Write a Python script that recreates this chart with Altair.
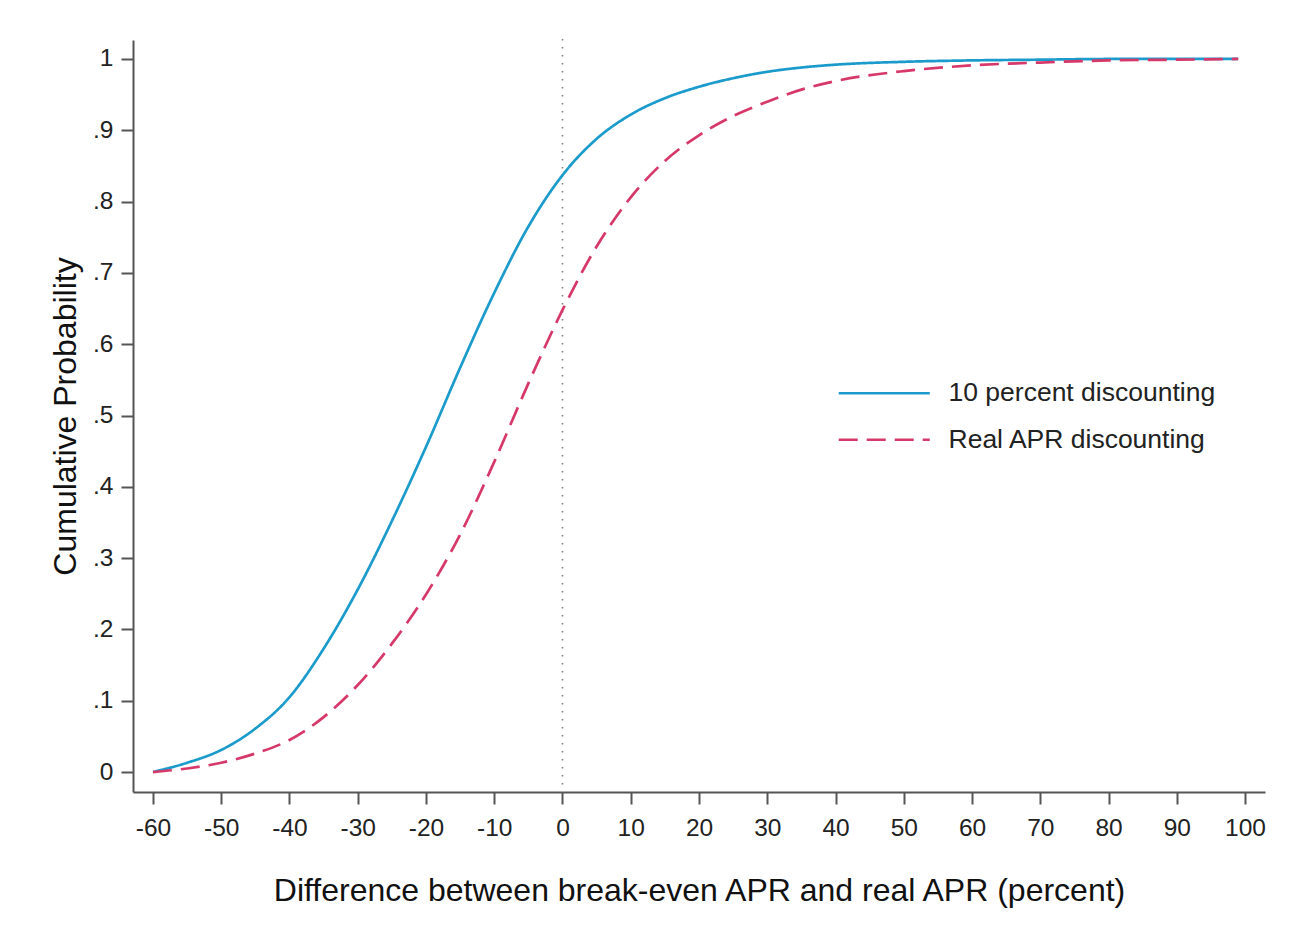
import altair as alt
import pandas as pd

# ---- data ----
x_vals = [-60, -55, -50, -45, -40, -35, -30, -25, -20, -15, -10, -5, 0, 5, 10,
          15, 20, 25, 30, 35, 40, 50, 60, 70, 80, 90, 99]
ten_pct = [0.0, 0.013, 0.031, 0.061, 0.105, 0.173, 0.256, 0.352, 0.456, 0.567,
           0.672, 0.765, 0.837, 0.888, 0.922, 0.945, 0.961, 0.973, 0.982,
           0.988, 0.992, 0.996, 0.998, 0.999, 1.0, 1.0, 1.0]
real_apr = [0.0, 0.005, 0.013, 0.026, 0.045, 0.077, 0.122, 0.18, 0.249, 0.333,
            0.435, 0.545, 0.648, 0.737, 0.806, 0.857, 0.893, 0.92, 0.94, 0.957,
            0.969, 0.983, 0.991, 0.995, 0.998, 0.999, 1.0]
series_names = ["10 percent discounting", "Real APR discounting"]
x_ticks = [-60, -50, -40, -30, -20, -10, 0, 10, 20, 30, 40, 50, 60, 70, 80, 90, 100]
y_ticks = [0, 0.1, 0.2, 0.3, 0.4, 0.5, 0.6, 0.7, 0.8, 0.9, 1.0]
ref_x = [0]

rows = []
for x, v in zip(x_vals, ten_pct):
    rows.append({"x": x, "p": v, "series": series_names[0]})
for x, v in zip(x_vals, real_apr):
    rows.append({"x": x, "p": v, "series": series_names[1]})
df = pd.DataFrame(rows)

W, H = 1132, 752
FONT = "Liberation Sans"

xscale = alt.Scale(domain=[-62.93, 102.93], nice=False, zero=False)
yscale = alt.Scale(domain=[-0.028, 1.0266], nice=False, zero=False)

axis_common = dict(
    domainColor="#555555", domainWidth=2, tickColor="#555555", tickWidth=2,
    tickSize=12, labelFont=FONT, labelFontSize=24.5, labelColor="#222222",
    titleFont=FONT, titleFontSize=32, titleFontWeight="normal", titleColor="#111111",
    grid=False,
)

# long horizontal legend symbol: path spans 8 units, scaled by sqrt(size)/2
legend_cfg = alt.Legend(
    title=None, orient="none", legendX=738, legendY=340,
    symbolType="M-4,0H4", symbolSize=518, symbolStrokeWidth=2.7,
    labelFont=FONT, labelFontSize=26.5, labelColor="#222222", labelLimit=600,
    labelOffset=51, rowPadding=19.5, padding=0,
)

lines = alt.Chart(df).mark_line(strokeWidth=2.7, interpolate="monotone").encode(
    x=alt.X("x:Q", scale=xscale,
            axis=alt.Axis(values=x_ticks, title="Difference between break-even APR and real APR (percent)",
                          labelExpr="toString(datum.value)",
                          labelPadding=12, titlePadding=36, **axis_common)),
    y=alt.Y("p:Q", scale=yscale,
            axis=alt.Axis(values=y_ticks, title="Cumulative Probability",
                          labelExpr="datum.value == 0 ? '0' : datum.value == 1 ? '1' : replace(format(datum.value, '.1f'), '0.', '.')",
                          labelPadding=8, titlePadding=10, **axis_common)),
    color=alt.Color("series:N", scale=alt.Scale(domain=series_names, range=["#1b9bcb", "#d7386a"]),
                    legend=legend_cfg),
    strokeDash=alt.StrokeDash("series:N", scale=alt.Scale(domain=series_names, range=[[1, 0], [19, 9]]),
                              legend=legend_cfg),
)

rule = alt.Chart(pd.DataFrame({"x": ref_x})).mark_rule(
    color="#808080", strokeWidth=1.6, strokeDash=[1.6, 6.4]
).encode(
    x=alt.X("x:Q", scale=xscale),
    y=alt.value(-1),
    y2=alt.value(H - 6),
)

chart = alt.layer(rule, lines).properties(
    width=W, height=H,
    autosize=alt.AutoSizeParams(type="none"),
    padding={"left": 125, "top": 32, "right": 28, "bottom": 140},
    background="white",
).configure_view(stroke=None)

chart.save("out.html", embed_options={"renderer": "svg", "actions": False})
